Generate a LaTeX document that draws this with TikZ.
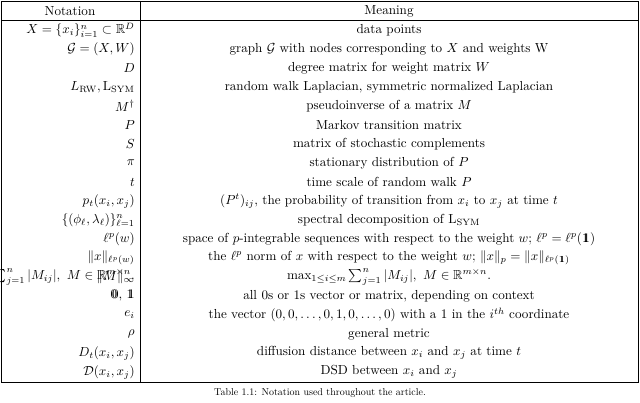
\documentclass[tikz,border=0pt]{standalone}
\usepackage{amsmath,amssymb}
\newcommand\bbone{\mathrm{1}\mkern-7mu\mathrm{1}}
\newcommand\bbzero{\mathrm{0}\mkern-7mu\mathrm{0}}
\tikzset{nt/.style={anchor=east,inner sep=0pt,scale=1.31},mn/.style={anchor=center,inner sep=0pt,scale=1.31},fr/.style={line width=0.8pt}}
\begin{document}
\begin{tikzpicture}[x=1pt,y=-1pt]
\useasboundingbox (0,0) rectangle (640,403);
\draw[fr] (1,1) rectangle (638,382);
\draw[fr] (1,20) -- (638,20);
\draw[fr] (140,1) -- (140,382);
\node[mn] (h1) at (70,11) {Notation};
\node[mn] (h2) at (389,11) {Meaning};
\foreach \i/\a/\b in {
0/{$X=\{x_i\}_{i=1}^n\subset\mathbb{R}^D$}/{data points},
1/{$\mathcal{G}=(X,W)$}/{graph $\mathcal{G}$ with nodes corresponding to $X$ and weights W},
2/{$D$}/{degree matrix for weight matrix $W$},
3/{$L_{\mathrm{RW}},\mathrm{L}_{\mathrm{SYM}}$}/{random walk Laplacian, symmetric normalized Laplacian},
4/{$M^\dagger$}/{pseudoinverse of a matrix $M$},
5/{$P$}/{Markov transition matrix},
6/{$S$}/{matrix of stochastic complements},
7/{$\pi$}/{stationary distribution of $P$},
8/{$t$}/{time scale of random walk $P$},
9/{$p_t(x_i,x_j)$}/{$(P^t)_{ij}$, the probability of transition from $x_i$ to $x_j$ at time $t$},
10/{$\{(\phi_\ell,\lambda_\ell)\}_{\ell=1}^n$}/{spectral decomposition of $\mathrm{L}_{\mathrm{SYM}}$},
11/{$\ell^p(w)$}/{space of $p$-integrable sequences with respect to the weight $w$; $\ell^p=\ell^p(\bbone)$},
12/{$\|x\|_{\ell^p(w)}$}/{the $\ell^p$ norm of $x$ with respect to the weight $w$; $\|x\|_p=\|x\|_{\ell^p(\bbone)}$},
13/{$\max_{1\le i\le m}\sum_{j=1}^n|M_{ij}|,\ M\in\mathbb{R}^{m\times n}$.},
14/{$\bbzero$, $\bbone$}/{all 0s or 1s vector or matrix, depending on context},
15/{$e_i$}/{the vector $(0,0,\dots,0,1,0,\dots,0)$ with a 1 in the $i^{th}$ coordinate},
16/{$\rho$}/{general metric},
17/{$D_t(x_i,x_j)$}/{diffusion distance between $x_i$ and $x_j$ at time $t$},
18/{$\mathcal{D}(x_i,x_j)$}/{DSD between $x_i$ and $x_j$}}{
\node[nt] (n\i) at (135,{30+19*\i}) {\a};
\node[mn] (m\i) at (389,{30+19*\i}) {\b};
}
\node[nt] (n13) at (135,277) {$\|M\|_\infty$};
\node[anchor=center,inner sep=0pt] (cap) at (320,393) {Table 1.1: Notation used throughout the article.};
\end{tikzpicture}
\end{document}
